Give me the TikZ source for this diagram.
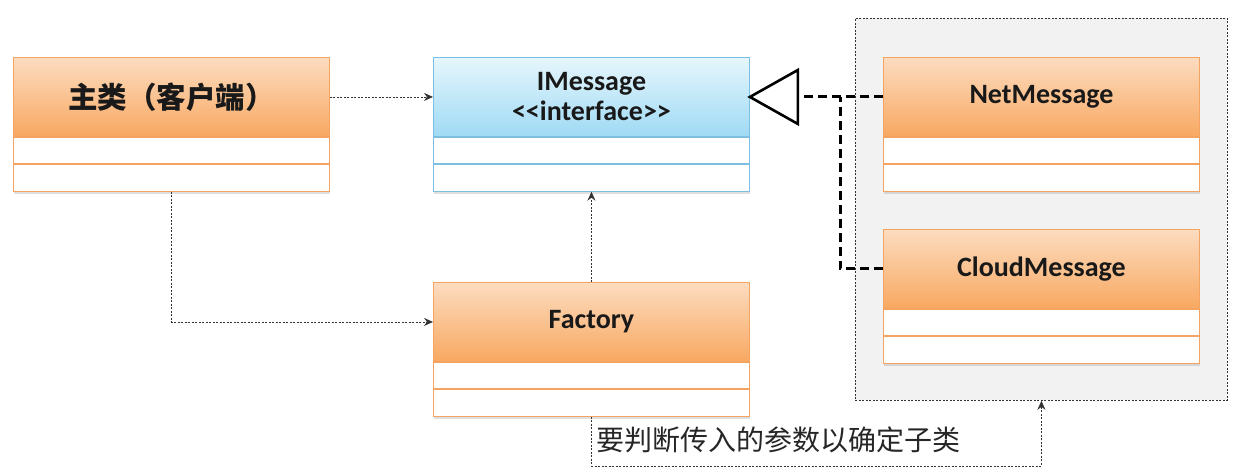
\documentclass[tikz,border=0pt]{standalone}
\usepackage{fontspec}
\setmainfont{Carlito}
\newfontfamily\cjk{Noto Sans CJK SC}
\usetikzlibrary{arrows.meta,shadows,calc}
\definecolor{orBorder}{HTML}{F4A460}
\definecolor{orTop}{HTML}{FCDCC0}
\definecolor{orBot}{HTML}{F8A861}
\definecolor{blBorder}{HTML}{7DBFE2}
\definecolor{blTop}{HTML}{E6F6FD}
\definecolor{blBot}{HTML}{9FDAF4}
\definecolor{grpFill}{HTML}{F2F2F2}
\definecolor{lineGray}{HTML}{333333}
\begin{document}
\begin{tikzpicture}[x=1pt,y=-1pt,
  shad/.style={drop shadow={shadow xshift=1pt,shadow yshift=-2.5pt,opacity=0.25}},
  hdr/.style={shad,draw=orBorder,line width=0.9pt,top color=orTop,bottom color=orBot,
    minimum width=316pt,minimum height=79pt,inner sep=0pt,anchor=north west,
    text=black!90,font=\fontsize{28}{30}\selectfont\bfseries,align=center},
  ihdr/.style={hdr,draw=blBorder,top color=blTop,bottom color=blBot},
  row/.style={shad,draw=orBorder,line width=0.9pt,fill=white,minimum width=316pt,
    minimum height=26.5pt,inner sep=0pt,anchor=north west},
  irow/.style={row,draw=blBorder},
  dep/.style={draw=lineGray,line width=0.8pt,dash pattern=on 2pt off 1.5pt,
    -{Stealth[length=9pt,width=8pt,inset=3pt]}},
  real/.style={draw=black,line width=3pt,dash pattern=on 9pt off 5pt},
  grpbox/.style={draw=lineGray,line width=0.8pt,dash pattern=on 2pt off 1.5pt,fill=grpFill,
    minimum width=372pt,minimum height=382pt,anchor=north west,inner sep=0pt}
]
\useasboundingbox[fill=white] (0,0) rectangle (1236,475);

% group box
\node[grpbox] (grp) at (855,18) {};

% main class
\node[hdr] (mainH) at (13,57) {\cjk\bfseries\fontsize{29.5}{30}\selectfont 主类（客户端）};
\node[row] (mainR1) at (mainH.south west) {};
\node[row] (mainR2) at (mainR1.south west) {};

% IMessage
\node[ihdr] (imH) at (433,57) {IMessage\\<\kern0pt<interface>\kern0pt>};
\node[irow] (imR1) at (imH.south west) {};
\node[irow] (imR2) at (imR1.south west) {};

% Factory
\node[hdr] (fH) at (433,282) {Factory};
\node[row] (fR1) at (fH.south west) {};
\node[row] (fR2) at (fR1.south west) {};

% NetMessage
\node[hdr] (nH) at (883,57) {NetMessage};
\node[row] (nR1) at (nH.south west) {};
\node[row] (nR2) at (nR1.south west) {};

% CloudMessage
\node[hdr] (cH) at (883,229) {CloudMessage};
\node[row] (cR1) at (cH.south west) {};
\node[row] (cR2) at (cR1.south west) {};

% dependencies
\draw[dep] (mainH.east) -- (imH.west);
\draw[dep] (mainR2.south) |- (fH.west);
\draw[dep] (fH.north) -- (imR2.south);
\coordinate (low) at (0,466);
\draw[dep] (fR2.south) -- (fR2.south |- low) -| (grp.south);

% realization
\coordinate (jn) at (840,0);
\draw[real] (nH.west) -- ($(imH.east)+(48,0)$);
\draw[real] (cH.west) -| (jn |- nH.west);
\draw[black,line width=2.6pt,line join=miter,fill=white]
  (imH.east) -- ($(imH.east)+(48,-27)$) -- ($(imH.east)+(48,27)$) -- cycle;

% label
\node[anchor=west,inner sep=0pt,font=\cjk\fontsize{28}{30}\selectfont,text=black!85] (lbl) at (596,440) {要判断传入的参数以确定子类};
\end{tikzpicture}
\end{document}
